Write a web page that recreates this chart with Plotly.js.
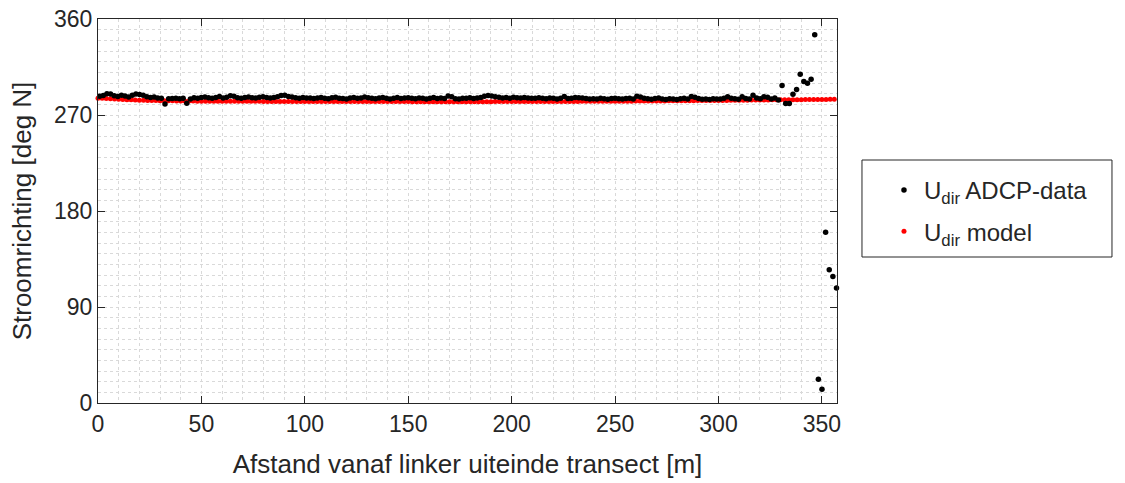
<!DOCTYPE html>
<html>
<head>
<meta charset="utf-8">
<script src="https://cdn.plot.ly/plotly-3.0.1.min.js"></script>
<style>
  html, body { margin: 0; padding: 0; background: #ffffff; }
  #chart { width: 1125px; height: 483px; }
</style>
</head>
<body>
<div id="chart"></div>
<script>
// Measured flow direction along the transect (ADCP), one value per ensemble
const adcpStart = 0.8;      // distance of first ensemble [m]
const adcpStep = 1.755;     // spacing between ensembles [m]
const adcpDirection = [
  287.5, 288.2, 290.0, 289.8, 288.0, 287.4, 288.6, 287.9, 286.9, 288.4,
  289.6, 289.2, 288.5, 287.0, 286.4, 286.8, 286.0, 285.8, 280.3, 285.3,
  285.4, 285.8, 285.2, 285.6, 281.0, 285.0, 286.2, 285.7, 286.4, 286.9,
  286.2, 285.8, 286.5, 287.3, 286.0, 286.6, 288.0, 287.6, 286.2, 285.7,
  286.4, 286.8, 286.1, 285.9, 286.7, 287.2, 286.5, 286.0, 286.3, 287.0,
  288.2, 288.6, 287.4, 286.8, 286.2, 285.6, 286.4, 286.0, 286.0, 285.4,
  285.9, 286.3, 285.7, 285.2, 286.1, 286.6, 285.8, 285.5, 285.1, 286.0,
  286.4, 285.6, 285.9, 286.8, 286.2, 285.7, 285.3, 285.9, 286.3, 285.6,
  285.0, 285.8, 286.4, 285.5, 285.9, 286.2, 285.7, 285.3, 286.0, 285.6,
  285.1, 285.8, 286.3, 285.4, 285.9, 285.5, 287.9, 287.1, 285.2, 284.9,
  285.6, 285.8, 286.1, 285.5, 285.9, 286.4, 287.6, 288.2, 287.8, 287.1,
  286.6, 286.0, 286.5, 285.8, 286.7, 286.2, 285.9, 286.4, 286.0, 285.6,
  285.8, 286.2, 285.7, 285.3, 285.9, 285.6, 285.1, 285.8, 287.3, 285.4,
  285.7, 286.5, 286.1, 285.9, 285.4, 285.0, 285.3, 284.9, 285.6, 285.2,
  284.8, 285.4, 285.7, 285.2, 284.9, 285.5, 285.8, 285.1, 287.5, 286.8,
  285.6, 285.2, 284.7, 285.4, 285.9, 285.1, 284.6, 285.3, 285.0, 284.5,
  285.2, 285.7, 284.9, 287.4, 286.6, 285.5, 284.8, 285.1, 284.6, 285.3,
  284.9, 285.0, 285.6, 287.0, 285.8, 285.2, 284.7, 287.1, 285.5, 284.9,
  288.4, 286.0, 285.3, 287.2, 286.6, 285.1, 286.0, 284.1, 297.6, 280.7,
  280.7, 289.5, 293.9, 308.3, 301.4, 299.8, 303.6, 345.2, 22.3, 12.9,
  160.1, 125.0, 118.7, 107.8
];

// Modelled flow direction, every 2 m from the left bank
const modelStart = 0;
const modelStep = 2;
const modelDirection = [
  285.8, 285.6, 285.4, 285.2, 285.0, 284.8, 284.6, 284.4, 284.2, 284.0,
  283.9, 283.8, 283.7, 283.6, 283.5, 283.4, 283.4, 283.3, 283.3, 283.2,
  283.2, 283.1, 283.1, 283.1, 283.0, 283.0, 283.0, 283.0, 282.9, 282.9,
  282.9, 282.9, 282.9, 282.8, 282.8, 282.8, 282.8, 282.8, 282.8, 282.8,
  282.7, 282.7, 282.7, 282.7, 282.7, 282.7, 282.7, 282.7, 282.7, 282.7,
  282.7, 282.7, 282.7, 282.7, 282.6, 282.6, 282.6, 282.6, 282.6, 282.6,
  282.6, 282.6, 282.6, 282.6, 282.6, 282.6, 282.6, 282.6, 282.6, 282.6,
  282.6, 282.6, 282.6, 282.6, 282.6, 282.6, 282.5, 282.5, 282.5, 282.5,
  282.5, 282.5, 282.5, 282.5, 282.5, 282.5, 282.5, 282.5, 282.5, 282.5,
  282.5, 282.5, 282.5, 282.5, 282.5, 282.5, 282.6, 282.6, 282.6, 282.6,
  282.6, 282.6, 282.6, 282.6, 282.6, 282.6, 282.6, 282.6, 282.6, 282.6,
  282.6, 282.6, 282.7, 282.7, 282.7, 282.7, 282.7, 282.8, 282.8, 282.8,
  282.8, 282.8, 282.9, 282.9, 282.9, 282.9, 283.0, 283.0, 283.0, 283.0,
  283.1, 283.1, 283.1, 283.1, 283.2, 283.2, 283.2, 283.2, 283.3, 283.3,
  283.3, 283.3, 283.4, 283.4, 283.4, 283.5, 283.5, 283.5, 283.6, 283.6,
  283.6, 283.7, 283.7, 283.8, 283.8, 283.8, 283.9, 283.9, 284.0, 284.0,
  284.0, 284.1, 284.1, 284.2, 284.2, 284.2, 284.3, 284.3, 284.4, 284.4,
  284.4, 284.5, 284.5, 284.5, 284.6, 284.6, 284.6, 284.7, 284.7
];

const seriesNames = ['U<sub>dir</sub> ADCP-data', 'U<sub>dir</sub> model'];
const xTitle = 'Afstand vanaf linker uiteinde transect [m]';
const yTitle = 'Stroomrichting [deg N]';
const yTicks = [0, 90, 180, 270, 360];
const xTicks = [0, 50, 100, 150, 200, 250, 300, 350];

const textColor = '#262626';
const gridColor = '#d9d9d9';
const fontFamily = '"Liberation Sans", Arial, Helvetica, sans-serif';

// Model trace first so the measurements are drawn on top of it
const traces = [
  {
    type: 'scatter', mode: 'markers', name: seriesNames[1],
    legendgroup: 'model', legendrank: 2,
    x0: modelStart, dx: modelStep, y: modelDirection,
    marker: { color: '#ff0000', size: 5 },
    cliponaxis: false
  },
  {
    type: 'scatter', mode: 'markers', name: seriesNames[0],
    legendgroup: 'adcp', legendrank: 1,
    x0: adcpStart, dx: adcpStep, y: adcpDirection,
    marker: { color: '#000000', size: 5.5 },
    cliponaxis: false
  }
];

const axisCommon = {
  showline: true, linecolor: textColor, linewidth: 1, mirror: 'ticks',
  ticks: 'inside', ticklen: 7, tickcolor: textColor, tickwidth: 1,
  showgrid: true, gridcolor: gridColor, griddash: 'dot', gridwidth: 1,
  zeroline: false, fixedrange: true,
  tickfont: { family: fontFamily, size: 23, color: textColor }
};

const layout = {
  width: 1125, height: 483,
  margin: { l: 98, r: 288, t: 19, b: 80, pad: 0 },
  paper_bgcolor: '#ffffff', plot_bgcolor: '#ffffff',
  font: { family: fontFamily, color: textColor },
  showlegend: true,
  xaxis: Object.assign({}, axisCommon, {
    range: [0, 357.3], tickmode: 'array', tickvals: xTicks,
    minor: { dtick: 10, showgrid: true, gridcolor: gridColor, griddash: 'dot', gridwidth: 1, ticks: '' },
    title: { text: xTitle, font: { family: fontFamily, size: 26, color: textColor }, standoff: 19 },
    automargin: false
  }),
  yaxis: Object.assign({}, axisCommon, {
    range: [0, 360], tickmode: 'array', tickvals: yTicks,
    minor: { dtick: 10, showgrid: true, gridcolor: gridColor, griddash: 'dot', gridwidth: 1, ticks: '' },
    title: { text: yTitle, font: { family: fontFamily, size: 26, color: textColor }, standoff: 14 },
    automargin: false
  }),
  // frame around the legend entries
  shapes: [{
    type: 'rect', xref: 'paper', yref: 'paper',
    x0: 1.0338, x1: 1.3721, y0: 0.3802, y1: 0.6328,
    line: { color: textColor, width: 1 }, fillcolor: '#ffffff', layer: 'below'
  }],
  legend: {
    x: 1.0338, y: 0.612, xanchor: 'left', yanchor: 'top',
    traceorder: 'grouped', tracegroupgap: 7,
    indentation: 22,
    bgcolor: 'rgba(0,0,0,0)', borderwidth: 0,
    font: { family: fontFamily, size: 24, color: textColor },
    itemsizing: 'trace'
  }
};

Plotly.newPlot('chart', traces, layout, { displayModeBar: false, staticPlot: true });
</script>
</body>
</html>
